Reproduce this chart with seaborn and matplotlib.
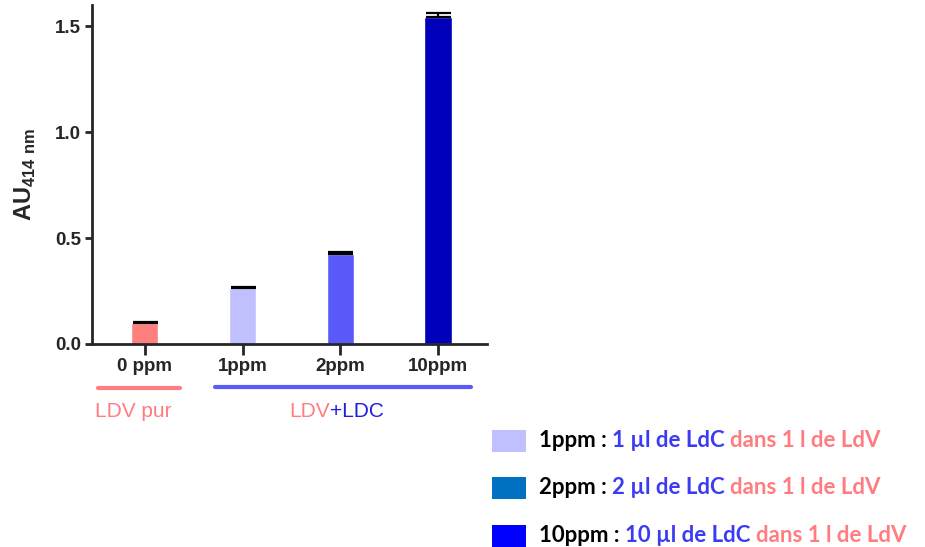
import matplotlib
matplotlib.use("Agg")
import matplotlib.pyplot as plt
from matplotlib.transforms import IdentityTransform
from matplotlib.patches import Rectangle
import seaborn as sns
import numpy as np
import pandas as pd

categories = ["0 ppm", "1ppm", "2ppm", "10ppm"]
values = [0.100, 0.264, 0.426, 1.544]
errors = [0.003, 0.005, 0.010, 0.020]
bar_colors = ["#FF7F7F", "#C0C0FF", "#5A5AFA", "#0000BB"]

groups = ["LDV pur", "LDV+LDC"]
legend_labels = ["1ppm", "2ppm", "10ppm"]
legend_volumes = ["1 µl de LdC", "2 µl de LdC", "10 µl de LdC"]
legend_colors = ["#C0C0FF", "#0070C0", "#0000FF"]

SALMON = "#FF7C80"
BLUE = "#3B3BF2"

sns.set_style("ticks")
plt.rcParams["font.family"] = ["Liberation Sans", "DejaVu Sans"]
plt.rcParams["mathtext.fontset"] = "custom"
plt.rcParams["mathtext.rm"] = "Liberation Sans"
plt.rcParams["mathtext.bf"] = "Liberation Sans:bold"

W, H = 925, 547
fig = plt.figure(figsize=(W / 100, H / 100), dpi=100)
ax = fig.add_axes([92 / W, 1 - 344 / H, (487 - 92) / W, (344 - 5) / H])

df = pd.DataFrame({"conc": categories, "AU": values})
sns.barplot(data=df, x="conc", y="AU", hue="conc", palette=bar_colors,
            width=0.28, saturation=1, legend=False, ax=ax, errorbar=None)
x = np.arange(len(categories))
ax.errorbar(x, values, yerr=[np.zeros(len(errors)), errors], fmt="none",
            ecolor="black", elinewidth=1.6, capsize=9, capthick=1.6)

ax.set_xlim(-0.54, 3.5)
ax.set_ylim(0, 1.6)
ax.set_yticks([0, 0.5, 1.0, 1.5])
ax.set_yticklabels(["0.0", "0.5", "1.0", "1.5"])
ax.set_xlabel("")
ax.set_ylabel(r"$\mathbf{AU}_{\mathbf{414\ nm}}$", fontsize=17, labelpad=12)
sns.despine(ax=ax)
for s in ["left", "bottom"]:
    ax.spines[s].set_linewidth(2)
ax.tick_params(axis="y", width=2, length=5, labelsize=13.5, pad=3)
ax.tick_params(axis="x", width=2, length=8, labelsize=13.5, pad=2)
for lab in ax.get_xticklabels() + ax.get_yticklabels():
    lab.set_fontweight("bold")

# group brackets under the axis
ident = IdentityTransform()
fig.add_artist(plt.Line2D([98, 180], [H - 388, H - 388], transform=ident,
                          color=SALMON, lw=3, solid_capstyle="round"))
fig.add_artist(plt.Line2D([215, 471], [H - 387, H - 387], transform=ident,
                          color="#5A5AFA", lw=3, solid_capstyle="round"))

renderer = fig.canvas.get_renderer()


def run_text(x0, y0, parts, **kw):
    """Place coloured pieces one after another on one baseline (pixels)."""
    probe1 = fig.text(0, 0, "x x", transform=ident, **kw)
    probe2 = fig.text(0, 0, "xx", transform=ident, **kw)
    gap = probe1.get_window_extent(renderer).width - probe2.get_window_extent(renderer).width
    probe1.remove()
    probe2.remove()
    xc = x0
    for s, c, sp in parts:
        t = fig.text(xc, y0, s, color=c, transform=ident, va="baseline", ha="left", **kw)
        xc += t.get_window_extent(renderer).width + (gap if sp else 0)
    return xc


run_text(95, H - 417, [(groups[0], SALMON, False)], fontsize=15)
run_text(289, H - 417, [("LDV", SALMON, False), ("+LDC", "#1E1EE0", False)], fontsize=15)

# custom legend on the lower right
rows_y = [447, 494, 542]
for lab, vol, col, yy in zip(legend_labels, legend_volumes, legend_colors, rows_y):
    fig.add_artist(Rectangle((492, H - yy - 5), 34, 22, transform=ident,
                             facecolor=col, edgecolor="none"))
    run_text(539, H - yy, [(lab + " :", "black", True), (vol, BLUE, True),
                           ("dans 1 l de LdV", SALMON, False)],
             fontsize=16, fontweight="bold", family=["Lato", "DejaVu Sans"])

fig.savefig("out.png", dpi=100)
